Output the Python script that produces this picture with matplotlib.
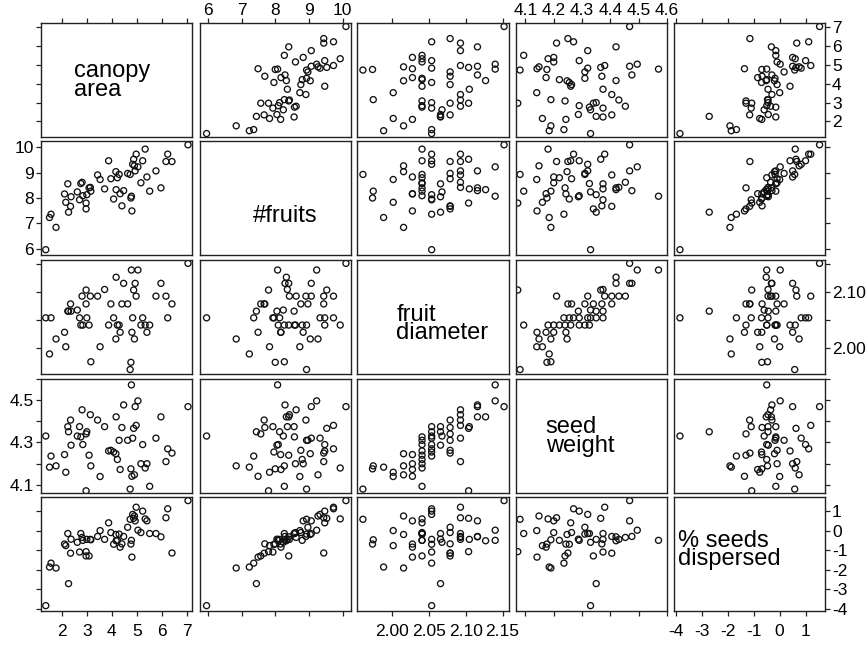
import matplotlib.pyplot as plt

plt.rcParams['font.family'] = ['Liberation Sans', 'DejaVu Sans']
plt.rcParams['axes.unicode_minus'] = False

# one row per plant
canopy = [1.36, 1.51, 1.57, 1.77, 2.11, 2.16, 2.24, 2.27, 2.35, 2.37,
          2.62, 2.71, 2.76, 2.81, 2.84, 2.97, 2.97, 3.00, 3.09, 3.16,
          3.14, 3.43, 3.53, 3.71, 3.87, 3.96, 4.07, 4.16, 4.17, 4.22,
          4.29, 4.33, 4.40, 4.47, 4.63, 4.73, 4.76, 4.78, 4.80, 4.83,
          4.87, 4.90, 4.93, 4.97, 5.04, 5.16, 5.23, 5.33, 5.40, 5.51,
          5.76, 5.96, 6.16, 6.23, 6.40, 7.04]
fruits = [5.96, 7.23, 7.36, 6.84, 8.16, 7.83, 8.56, 7.44, 7.67, 8.05,
          8.24, 7.93, 8.57, 8.62, 8.09, 7.80, 7.57, 8.13, 8.40, 8.27,
          8.42, 8.91, 8.73, 8.36, 9.47, 8.76, 7.96, 9.04, 8.33, 8.80,
          8.93, 8.17, 7.69, 8.29, 8.97, 8.93, 8.00, 8.07, 7.49, 9.33,
          9.53, 9.27, 9.07, 9.73, 9.23, 8.60, 9.47, 9.93, 8.83, 8.27,
          9.07, 8.40, 9.44, 9.73, 9.44, 10.10]
diameter = [2.054, 1.989, 2.054, 2.016, 2.028, 2.002, 2.066, 2.066, 2.079, 2.066,
            2.068, 2.054, 2.041, 2.093, 2.041, 2.104, 2.079, 2.054, 2.041, 1.975,
            2.093, 2.093, 2.002, 2.105, 2.041, 2.079, 2.054, 2.016, 2.127, 2.041,
            2.041, 2.028, 2.079, 2.116, 2.079, 1.961, 1.974, 2.140, 2.028, 2.054,
            2.104, 2.016, 2.116, 2.093, 2.140, 2.041, 2.054, 2.041, 2.028, 2.041,
            2.093, 2.116, 2.093, 2.054, 2.079, 2.152]
weight = [4.330, 4.184, 4.236, 4.190, 4.243, 4.160, 4.374, 4.350, 4.405, 4.287,
          4.330, 4.374, 4.326, 4.453, 4.290, 4.073, 4.340, 4.350, 4.240, 4.190,
          4.430, 4.405, 4.140, 4.374, 4.260, 4.263, 4.255, 4.247, 4.420, 4.220,
          4.310, 4.173, 4.370, 4.476, 4.310, 4.081, 4.176, 4.570, 4.141, 4.320,
          4.366, 4.148, 4.468, 4.380, 4.495, 4.200, 4.290, 4.180, 4.200, 4.094,
          4.320, 4.420, 4.210, 4.270, 4.250, 4.468]
dispersed = [-3.85, -1.87, -1.67, -1.92, -0.69, -0.77, -0.15, -2.72, -1.16, -0.44,
             -0.60, -1.10, -0.15, -0.35, -0.50, -1.08, -1.30, -0.45, -1.30, -0.47,
             -0.45, -0.30, 0.00, -0.45, 0.40, -0.10, -0.70, -0.20, -0.52, -0.50,
             -0.18, -0.85, -0.68, -0.30, 0.17, 0.58, -0.69, -0.50, -1.36, 0.83,
             0.63, 0.75, 0.50, 1.20, 0.02, -0.10, 1.00, 0.60, 0.50, -0.15,
             -0.15, -0.32, 0.66, 1.12, -1.15, 1.54]

names = ["canopy\narea", "#fruits", "fruit\ndiameter", "seed\nweight", "% seeds\ndispersed"]
data = [canopy, fruits, diameter, weight, dispersed]

limits = [(1.15, 7.2), (5.75, 10.25), (1.953, 2.158), (4.065, 4.60), (-4.1, 1.75)]
ticks = [[2, 3, 4, 5, 6, 7], [6, 7, 8, 9, 10], [2.00, 2.05, 2.10, 2.15],
         [4.1, 4.2, 4.3, 4.4, 4.5, 4.6], [-4, -3, -2, -1, 0, 1]]
tick_labels = [["2", "3", "4", "5", "6", "7"], ["6", "7", "8", "9", "10"],
               ["2.00", "2.05", "2.10", "2.15"],
               ["4.1", "4.2", "4.3", "4.4", "4.5", "4.6"],
               ["-4", "-3", "-2", "-1", "0", "1"]]
left_labels = {1: tick_labels[1], 3: ["4.1", "", "4.3", "", "4.5", ""]}
right_labels = {0: tick_labels[0], 2: ["2.00", "", "2.10", ""], 4: tick_labels[4]}
top_cols = [1, 3]
bottom_cols = [0, 2, 4]

# where the variable name sits inside the diagonal panels (axes fraction)
name_pos = [(0.22, 0.50), (0.355, 0.34), (0.26, 0.44), (0.20, 0.49), (0.03, 0.53)]

W, H = 867, 645
col_left = [40.5, 199.5, 357, 515.5, 673.5]
row_top = [23.5, 141, 260, 378.5, 496.5]
pw, ph = 151.5, 114

fig = plt.figure(figsize=(W / 100, H / 100), dpi=100)
n = len(data)
for i in range(n):
    for j in range(n):
        ax = fig.add_axes([col_left[j] / W, 1 - (row_top[i] + ph) / H, pw / W, ph / H])
        ax.set_xlim(limits[j])
        ax.set_ylim(limits[i])
        for s in ax.spines.values():
            s.set_linewidth(1.0)
            s.set_color('#222222')
        if i == j:
            ax.text(name_pos[i][0], name_pos[i][1], names[i], transform=ax.transAxes,
                    fontsize=17, ha='left', va='center', linespacing=0.8)
        else:
            ax.scatter(data[j], data[i], s=19, facecolors='none',
                       edgecolors='#111111', linewidths=0.95)

        ax.tick_params(which='both', direction='out', length=3.5, width=0.9,
                       labelsize=12.5, pad=1.5, color='#222222',
                       bottom=False, top=False, left=False, right=False,
                       labelbottom=False, labeltop=False, labelleft=False, labelright=False)
        ax.set_xticks(ticks[j])
        ax.set_yticks(ticks[i])
        if i == 0:
            ax.tick_params(axis='x', top=True)
            if j in top_cols:
                ax.set_xticklabels(tick_labels[j])
                ax.tick_params(axis='x', labeltop=True, pad=0.5)
        if i == n - 1:
            ax.tick_params(axis='x', bottom=True)
            if j in bottom_cols:
                ax.set_xticklabels(tick_labels[j])
                ax.tick_params(axis='x', labelbottom=True, pad=6)
        if j == 0:
            ax.tick_params(axis='y', left=True)
            if i in left_labels:
                ax.set_yticklabels(left_labels[i])
                ax.tick_params(axis='y', labelleft=True)
        if j == n - 1:
            ax.tick_params(axis='y', right=True)
            if i in right_labels:
                ax.set_yticklabels(right_labels[i])
                ax.tick_params(axis='y', labelright=True)

fig.savefig("out.png", dpi=100)
